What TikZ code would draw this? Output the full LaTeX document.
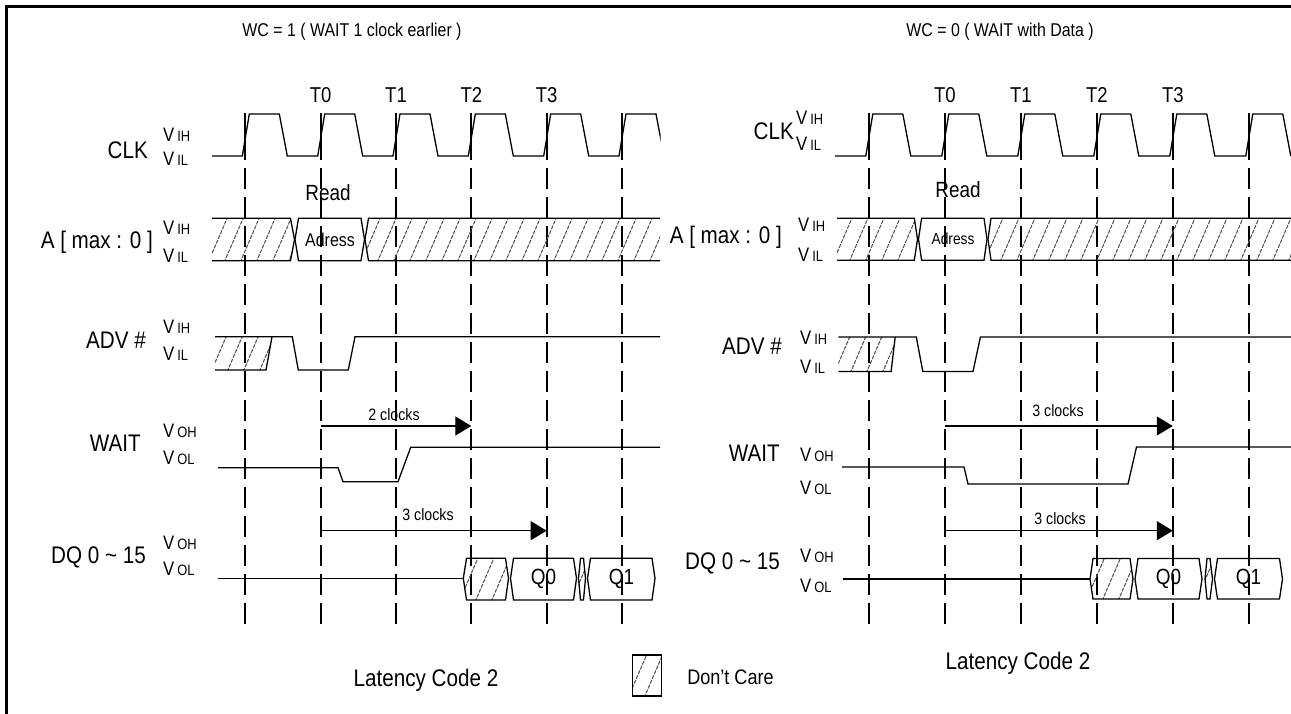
\documentclass[tikz,border=0pt]{standalone}
\usepackage{fontspec}
\setmainfont{Liberation Sans}[FakeStretch=0.86]
\usetikzlibrary{arrows.meta}
\newcommand\fsz[1]{\fontsize{#1}{#1}\selectfont}
\newcommand\VV[1]{{\fsz{19.5}V}\hspace{3pt}{\fsz{15}#1}}
% #1 clip path, #2 x start, #3 count, #4 y top, #5 y bottom
\newcommand\hatch[5]{\begin{scope}\clip #1;\foreach \k in {0,...,#3}{\draw[hatchln] ({#2-20+16*\k},#5+2) -- ({#2-20+16*\k+0.43*(#5-#4+4)},#4-2);}\end{scope}}
\begin{document}
\begin{tikzpicture}[x=1pt,y=-1pt,
 wave/.style={line width=1.3pt,line join=miter},
 edgesolid/.style={line width=2.3pt},
 edgedash/.style={line width=2.3pt,dash pattern=on 21pt off 8pt},
 hatchln/.style={line width=1.1pt,black!65,dash pattern=on 4pt off 1.2pt},
 lbl/.style={inner sep=0pt,anchor=base east,font=\fsz{24}},
 vl/.style={inner sep=0pt,anchor=base west},
 txt/.style={inner sep=0pt},
 arr/.style={line width=1.3pt,-{Triangle[length=16pt,width=19pt]}},
]
\useasboundingbox (0,0) rectangle (1291,714);
% frame
\draw[line width=3pt] (6.5,714) -- (6.5,6.5) -- (1291,6.5);

% ================= LEFT DIAGRAM =================
\node[txt,font=\fsz{18.5}] (titleL) at (352,32) {WC = 1 ( WAIT 1 clock earlier )};
\foreach \e/\t in {320.7/T0,396/T1,471.3/T2,546.7/T3}
  \node[txt,font=\fsz{21.5}] (L\t) at (\e,95) {\t};
% clock edge lines
\foreach \e in {245.3,320.7,396,471.3,546.7,622}{
  \draw[edgesolid] (\e,113) -- (\e,160);
  \draw[edgedash] (\e,168) -- (\e,628);
}
% labels
\node[lbl] (LclkL) at (148,159) {CLK};
\node[vl] at (163,141.7) {\VV{IH}};
\node[vl] at (163,166) {\VV{IL}};
\node[lbl] (LaL) at (153,249) {A [ max : 0 ]};
\node[vl] at (163,234.5) {\VV{IH}};
\node[vl] at (163,262) {\VV{IL}};
\node[lbl] (LadvL) at (146,348) {ADV \#};
\node[vl] at (163,333) {\VV{IH}};
\node[vl] at (163,360) {\VV{IL}};
\node[lbl] (LwaitL) at (141,451) {WAIT};
\node[vl] at (163,437) {\VV{OH}};
\node[vl] at (163,464) {\VV{OL}};
\node[lbl] (LdqL) at (146,563) {DQ 0 \textasciitilde{} 15};
\node[vl] at (163,549) {\VV{OH}};
\node[vl] at (163,575) {\VV{OL}};
% CLK
\begin{scope}
\clip (200,100) rectangle (660.5,170);
\draw[wave] (212,156) \foreach \e in {245.3,320.7,396,471.3,546.7,622}{ -- (\e-3,156) -- (\e+4,114) -- (\e+34,114) -- (\e+42,156)};
\end{scope}
% Address bus
\node[txt,font=\fsz{22}] (LRead) at (328,193) {Read};
\hatch{(212,218.3) -- (290.5,218.3) -- (294.5,239.5) -- (290.5,260.7) -- (212,260.7) -- cycle}{212}{8}{218.3}{260.7}
\draw[wave] (212,218.3) -- (290.5,218.3) -- (294.5,239.5) -- (290.5,260.7) -- (212,260.7);
\draw[wave] (298.5,218.3) -- (361,218.3) -- (364.5,239.5) -- (361,260.7) -- (298.5,260.7) -- (295,239.5) -- cycle;
\node[txt,font=\fsz{18.5}] (LAdr) at (330,239.5) {Adress};
\hatch{(660,218.3) -- (368.5,218.3) -- (365,239.5) -- (368.5,260.7) -- (660,260.7) -- cycle}{365}{22}{218.3}{260.7}
\draw[wave] (660,218.3) -- (368.5,218.3) -- (365,239.5) -- (368.5,260.7) -- (660,260.7);
% ADV
\hatch{(215,336.7) -- (272,336.7) -- (266,370) -- (215,370) -- cycle}{215}{5}{336.7}{370}
\draw[wave] (215,370) -- (266,370) -- (272,336.7);
\draw[wave] (215,336.7) -- (292.3,336.7) -- (298.3,370) -- (348.3,370) -- (355,336.7) -- (660,336.7);
% WAIT
\draw[wave] (218,467.7) -- (338,467.7) -- (343,481.7) -- (398,481.7) -- (410.7,447.3) -- (660,447.3);
\coordinate (La1s) at (320.7,426);
\coordinate (La1e) at (471.3,426);
\draw[arr] (La1s) -- (La1e);
\node[txt,font=\fsz{16.5}] (Lc2) at (394,415) {2 clocks};
\coordinate (La2s) at (320.7,530.7);
\coordinate (La2e) at (546.7,530.7);
\draw[arr] (La2s) -- (La2e);
\node[txt,font=\fsz{16.5}] (Lc3) at (428,515) {3 clocks};
% DQ
\draw[wave] (218,578.3) -- (463.3,578.3);
\hatch{(463.3,578.3) -- (466.5,558.3) -- (505.5,558.3) -- (508.5,578.3) -- (505.5,600) -- (466.5,600) -- cycle}{463}{4}{558.3}{600}
\draw[wave] (463.3,578.3) -- (466.5,558.3) -- (505.5,558.3) -- (508.5,578.3) -- (505.5,600) -- (466.5,600) -- cycle;
\draw[wave] (510.5,578.3) -- (513.5,558.3) -- (573.5,558.3) -- (576.5,578.3) -- (573.5,600) -- (513.5,600) -- cycle;
\node[txt,font=\fsz{22}] (LQ0) at (543.5,579) {Q0};
\hatch{(578.5,578.3) -- (580.5,558.3) -- (583.5,558.3) -- (585.5,578.3) -- (583.5,600) -- (580.5,600) -- cycle}{575}{2}{558.3}{600}
\draw[wave] (578.5,578.3) -- (580.5,558.3) -- (583.5,558.3) -- (585.5,578.3) -- (583.5,600) -- (580.5,600) -- cycle;
\draw[wave] (587.5,578.3) -- (590.5,558.3) -- (652,558.3) -- (655,578.3) -- (652,600) -- (590.5,600) -- cycle;
\node[txt,font=\fsz{22}] (LQ1) at (621.5,579) {Q1};
\node[txt,font=\fsz{24}] (LLat) at (426,680) {Latency Code 2};

% legend
\hatch{(632.7,655) rectangle (661.7,696)}{632}{4}{655}{696}
\draw[line width=1.1pt] (632.7,655) rectangle (661.7,696);
\node[txt,font=\fsz{21}] (dc) at (730.5,677) {Don’t Care};

% ================= RIGHT DIAGRAM =================
\node[txt,font=\fsz{18.5}] (titleR) at (1000,32) {WC = 0 ( WAIT with Data )};
\foreach \e/\t in {944.8/T0,1020.8/T1,1096.8/T2,1172.8/T3}
  \node[txt,font=\fsz{21.5}] (R\t) at (\e,95) {\t};
\foreach \e in {868.8,944.8,1020.8,1096.8,1172.8,1248.8}{
  \draw[edgesolid] (\e,113) -- (\e,160);
  \draw[edgedash] (\e,168) -- (\e,627);
}
\node[lbl] (RclkL) at (794,140) {CLK};
\node[vl] at (796,125) {\VV{IH}};
\node[vl] at (796,151) {\VV{IL}};
\node[lbl] (RaL) at (782,244) {A [ max : 0 ]};
\node[vl] at (798,231.6) {\VV{IH}};
\node[vl] at (798,261.8) {\VV{IL}};
\node[lbl] (RadvL) at (782,354) {ADV \#};
\node[vl] at (800,344) {\VV{IH}};
\node[vl] at (800,373) {\VV{IL}};
\node[lbl] (RwaitL) at (780,461) {WAIT};
\node[vl] at (800,461) {\VV{OH}};
\node[vl] at (800,494) {\VV{OL}};
\node[lbl] (RdqL) at (780,569) {DQ 0 \textasciitilde{} 15};
\node[vl] at (800,562) {\VV{OH}};
\node[vl] at (800,592) {\VV{OL}};
% CLK
\draw[wave] (835,156) \foreach \e in {868.8,944.8,1020.8,1096.8,1172.8,1248.8}{ -- (\e-3,156) -- (\e+4,114) -- (\e+34,114) -- (\e+42,156)};
% A bus
\node[txt,font=\fsz{22}] (RRead) at (958,190) {Read};
\hatch{(837,218.2) -- (914.3,218.2) -- (917.5,239.2) -- (914.3,260.2) -- (837,260.2) -- cycle}{837}{8}{218.2}{260.2}
\draw[wave] (837,218.2) -- (914.3,218.2) -- (917.5,239.2) -- (914.3,260.2) -- (837,260.2);
\draw[wave] (921.6,218.2) -- (984,218.2) -- (987,239.2) -- (984,260.2) -- (921.6,260.2) -- (918.5,239.2) -- cycle;
\node[txt,font=\fsz{16}] (RAdr) at (953,239.2) {Adress};
\hatch{(1291,218.2) -- (991,218.2) -- (988,239.2) -- (991,260.2) -- (1291,260.2) -- cycle}{988}{22}{218.2}{260.2}
\draw[wave] (1291,218.2) -- (991,218.2) -- (988,239.2) -- (991,260.2) -- (1291,260.2);
% ADV
\hatch{(838.4,337) -- (895.2,337) -- (891.1,371.5) -- (838.4,371.5) -- cycle}{838}{5}{337}{371.5}
\draw[wave] (838.4,371.5) -- (891.1,371.5) -- (895.2,337);
\draw[wave] (838.4,337) -- (916.3,337) -- (922.8,371.5) -- (973,371.5) -- (980.4,337) -- (1291,337);
% WAIT
\draw[wave] (842,467) -- (964,467) -- (968,484) -- (1128,484) -- (1136.5,447) -- (1291,447);
\coordinate (Ra1s) at (944.8,426);
\coordinate (Ra1e) at (1172.8,426);
\draw[arr] (Ra1s) -- (Ra1e);
\node[txt,font=\fsz{16.5}] (Rc1) at (1058,411) {3 clocks};
\coordinate (Ra2s) at (944.8,530.7);
\coordinate (Ra2e) at (1172.8,530.7);
\draw[arr] (Ra2s) -- (Ra2e);
\node[txt,font=\fsz{16.5}] (Rc2) at (1060,519) {3 clocks};
% DQ
\draw[wave] (842.5,579) -- (1090,579);
\hatch{(1090,579) -- (1093,558.5) -- (1130,558.5) -- (1133,579) -- (1130,599) -- (1093,599) -- cycle}{1090}{4}{558.5}{599}
\draw[wave] (1090,579) -- (1093,558.5) -- (1130,558.5) -- (1133,579) -- (1130,599) -- (1093,599) -- cycle;
\draw[wave] (1135,579) -- (1138,558.5) -- (1199,558.5) -- (1202,579) -- (1199,599) -- (1138,599) -- cycle;
\node[txt,font=\fsz{22}] (RQ0) at (1168.5,579) {Q0};
\hatch{(1205,579) -- (1207,558.5) -- (1210,558.5) -- (1212.5,579) -- (1210,599) -- (1207,599) -- cycle}{1200}{2}{558.5}{599}
\draw[wave] (1205,579) -- (1207,558.5) -- (1210,558.5) -- (1212.5,579) -- (1210,599) -- (1207,599) -- cycle;
\draw[wave] (1214.5,579) -- (1217.5,558.5) -- (1279.5,558.5) -- (1282.5,579) -- (1279.5,599) -- (1217.5,599) -- cycle;
\node[txt,font=\fsz{22}] (RQ1) at (1248.5,579) {Q1};
\node[txt,font=\fsz{24}] (RLat) at (1018,663.5) {Latency Code 2};
\end{tikzpicture}
\end{document}
